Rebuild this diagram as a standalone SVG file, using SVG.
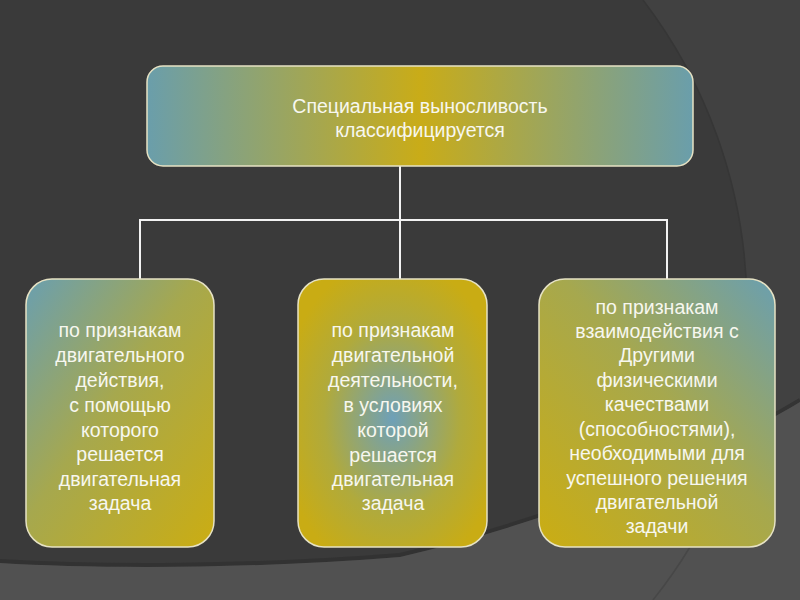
<svg xmlns="http://www.w3.org/2000/svg" width="800" height="600" viewBox="0 0 800 600">
<defs>
<linearGradient id="gTop" x1="0" y1="0" x2="1" y2="0">
<stop offset="0" stop-color="#6a9eab"/>
<stop offset="0.5" stop-color="#c9ac18"/>
<stop offset="1" stop-color="#6a9eab"/>
</linearGradient>
<linearGradient id="gLeft" x1="0" y1="0" x2="1" y2="1">
<stop offset="0" stop-color="#6a9fb0"/>
<stop offset="0.45" stop-color="#a6a84e"/>
<stop offset="1" stop-color="#cbad12"/>
</linearGradient>
<linearGradient id="gRight" x1="1" y1="0" x2="0" y2="1">
<stop offset="0" stop-color="#6a9fb0"/>
<stop offset="0.45" stop-color="#a6a84e"/>
<stop offset="1" stop-color="#cbad12"/>
</linearGradient>
<radialGradient id="gMid" cx="0.5" cy="0.52" r="0.6">
<stop offset="0" stop-color="#6ea0b8"/>
<stop offset="0.6" stop-color="#b0aa3c"/>
<stop offset="1" stop-color="#c9ac14"/>
</radialGradient>
<style>
.box{stroke:#e6e2c4;stroke-width:1.5}
.t{font-family:"Liberation Sans",Arial,sans-serif;font-size:19.5px;fill:#f7f7ef;text-anchor:middle}
.ln{stroke:#f2f2f2;stroke-width:2;fill:none}
</style>
</defs>
<rect width="800" height="600" fill="#3a3a3a"/>
<path d="M643,0 L800,0 L800,600 L653,600 A505,505 0 0 0 643,0 Z" fill="#414141"/>
<path d="M643,0 A505,505 0 0 1 653,600" fill="none" stroke="#363636" stroke-width="1.5"/>
<path d="M0,561 C100,567 250,567 400,555 C550,520 700,460 800,400" fill="none" stroke="#2f2f2f" stroke-width="4" opacity="0.7"/>
<path d="M0,563 C100,569 250,569 400,557 C550,522 700,462 800,402 L800,600 L0,600 Z" fill="#515151"/>
<path d="M690,547 A505,505 0 0 1 653,600" fill="none" stroke="#474747" stroke-width="1.5"/>
<g id="connectors">
<line class="ln" x1="400" y1="166" x2="400" y2="280"/>
<polyline class="ln" points="140,280 140,220 667,220 667,280"/>
</g>
<g id="top">
<rect class="box" x="147" y="66" width="546" height="100" rx="16" fill="url(#gTop)"/>
<text class="t" x="420" y="113">Специальная выносливость</text>
<text class="t" x="420" y="137">классифицируется</text>
</g>
<g id="left">
<rect class="box" x="26" y="279" width="188" height="268" rx="26" fill="url(#gLeft)"/>
<text class="t" x="120" y="337">по признакам</text>
<text class="t" x="120" y="362">двигательного</text>
<text class="t" x="120" y="387">действия,</text>
<text class="t" x="120" y="412">с помощью</text>
<text class="t" x="120" y="437">которого</text>
<text class="t" x="120" y="461">решается</text>
<text class="t" x="120" y="486">двигательная</text>
<text class="t" x="120" y="510">задача</text>
</g>
<g id="middle">
<rect class="box" x="298" y="279" width="189" height="268" rx="26" fill="url(#gMid)"/>
<text class="t" x="393" y="337">по признакам</text>
<text class="t" x="393" y="362">двигательной</text>
<text class="t" x="393" y="387">деятельности,</text>
<text class="t" x="393" y="412">в условиях</text>
<text class="t" x="393" y="437">которой</text>
<text class="t" x="393" y="462">решается</text>
<text class="t" x="393" y="486">двигательная</text>
<text class="t" x="393" y="510">задача</text>
</g>
<g id="right">
<rect class="box" x="539" y="279" width="236" height="268" rx="26" fill="url(#gRight)"/>
<text class="t" x="657" y="314">по признакам</text>
<text class="t" x="657" y="338">взаимодействия с</text>
<text class="t" x="657" y="362">Другими</text>
<text class="t" x="657" y="387">физическими</text>
<text class="t" x="657" y="411">качествами</text>
<text class="t" x="657" y="436">(способностями),</text>
<text class="t" x="657" y="460">необходимыми для</text>
<text class="t" x="657" y="485">успешного решения</text>
<text class="t" x="657" y="509">двигательной</text>
<text class="t" x="657" y="533">задачи</text>
</g>
</svg>
